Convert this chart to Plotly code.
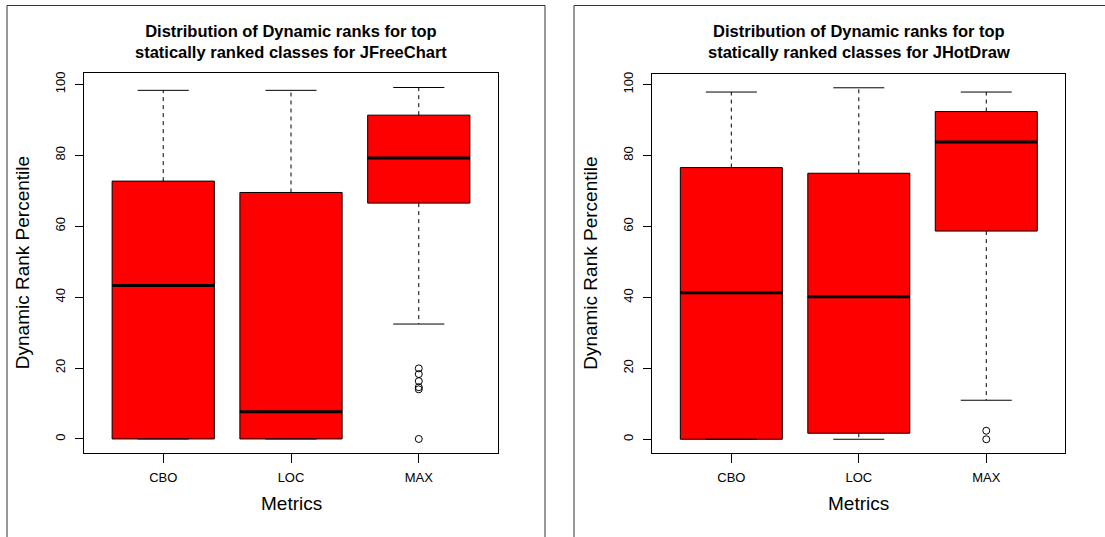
import plotly.graph_objects as go

categories = ["CBO", "LOC", "MAX"]

# JFreeChart panel (left)
jfc_lower = [0.0, 0.0, 32.4]
jfc_q1 = [0.0, 0.0, 66.5]
jfc_median = [43.3, 7.7, 79.2]
jfc_q3 = [72.7, 69.5, 91.3]
jfc_upper = [98.3, 98.3, 99.1]
jfc_outliers_max = [19.9, 18.3, 16.3, 14.6, 14.0, 0.0]

# JHotDraw panel (right)
jhd_lower = [0.0, 0.0, 11.0]
jhd_q1 = [0.0, 1.7, 58.7]
jhd_median = [41.3, 40.2, 83.8]
jhd_q3 = [76.6, 75.0, 92.4]
jhd_upper = [97.9, 99.1, 97.9]
jhd_outliers_max = [2.4, 0.0]

y_ticks = [0, 20, 40, 60, 80, 100]
titles = [
    "Distribution of Dynamic ranks for top<br>statically ranked classes for JFreeChart",
    "Distribution of Dynamic ranks for top<br>statically ranked classes for JHotDraw",
]
x_title = "Metrics"
y_title = "Dynamic Rank Percentile"

W, H = 1105, 537
FONT = "Liberation Sans, Arial, sans-serif"
BOXW = 0.8

fig = go.Figure()

panels = [
    dict(lower=jfc_lower, q1=jfc_q1, med=jfc_median, q3=jfc_q3, upper=jfc_upper,
         out=jfc_outliers_max, xa="x", ya="y", xd=(84, 498), yd=(71.7, 452.7)),
    dict(lower=jhd_lower, q1=jhd_q1, med=jhd_median, q3=jhd_q3, upper=jhd_upper,
         out=jhd_outliers_max, xa="x2", ya="y2", xd=(652.3, 1065.3), yd=(72, 453)),
]

pos = [1, 2, 3]
for k, p in enumerate(panels):
    xa, ya = p["xa"], p["ya"]
    # boxes
    fig.add_trace(go.Box(
        x=pos, q1=p["q1"], median=p["med"], q3=p["q3"],
        lowerfence=p["q1"], upperfence=p["q3"], width=BOXW,
        fillcolor="#FF0000", line=dict(color="black", width=1),
        whiskerwidth=0, boxpoints=False, xaxis=xa, yaxis=ya,
        showlegend=False, hoverinfo="skip"))
    # whiskers
    wx, wy = [], []
    for i, lo, a, b, hi in zip(pos, p["lower"], p["q1"], p["q3"], p["upper"]):
        wx += [i, i, None, i, i, None]
        wy += [b, hi, None, a, lo, None]
    fig.add_trace(go.Scatter(x=wx, y=wy, mode="lines", xaxis=xa, yaxis=ya,
                             line=dict(color="black", width=1, dash="4px,4px"),
                             showlegend=False, hoverinfo="skip"))
    # staples
    cx, cy = [], []
    for i, lo, hi in zip(pos, p["lower"], p["upper"]):
        cx += [i - BOXW / 4, i + BOXW / 4, None, i - BOXW / 4, i + BOXW / 4, None]
        cy += [hi, hi, None, lo, lo, None]
    fig.add_trace(go.Scatter(x=cx, y=cy, mode="lines", xaxis=xa, yaxis=ya,
                             line=dict(color="black", width=1),
                             showlegend=False, hoverinfo="skip"))
    # medians
    mx, my = [], []
    for i, m in zip(pos, p["med"]):
        mx += [i - BOXW / 2, i + BOXW / 2, None]
        my += [m, m, None]
    fig.add_trace(go.Scatter(x=mx, y=my, mode="lines", xaxis=xa, yaxis=ya,
                             line=dict(color="black", width=3),
                             showlegend=False, hoverinfo="skip"))
    # outliers
    fig.add_trace(go.Scatter(x=[3] * len(p["out"]), y=p["out"], mode="markers",
                             xaxis=xa, yaxis=ya,
                             marker=dict(symbol="circle-open", size=7,
                                         color="black", line=dict(width=1)),
                             showlegend=False, hoverinfo="skip"))

    allv = p["lower"] + p["upper"] + p["out"]
    lo_v, hi_v = min(allv), max(allv)
    ext = 0.04 * (hi_v - lo_v)
    suffix = "" if k == 0 else "2"
    fig.update_layout(**{
        "xaxis" + suffix: dict(
            domain=[p["xd"][0] / W, p["xd"][1] / W], range=[0.38, 3.62],
            tickvals=pos, ticktext=categories, ticks="outside", ticklen=9,
            tickcolor="black", showline=True, mirror=True, linecolor="black",
            linewidth=1, showgrid=False, zeroline=False,
            tickfont=dict(family=FONT, size=13, color="black"),
            ticklabelstandoff=3, anchor="y" + suffix),
        "yaxis" + suffix: dict(
            domain=[1 - p["yd"][1] / H, 1 - p["yd"][0] / H],
            range=[lo_v - ext, hi_v + ext], tickvals=y_ticks, tickangle=-90,
            ticks="outside", ticklen=8, tickcolor="black", showline=True,
            mirror=True, linecolor="black", linewidth=1, showgrid=False,
            zeroline=False, tickfont=dict(family=FONT, size=13, color="black"),
            ticklabelstandoff=5, anchor="x" + suffix),
    })

    cx_mid = (p["xd"][0] + p["xd"][1]) / 2
    cy_mid = (p["yd"][0] + p["yd"][1]) / 2
    fig.add_annotation(x=cx_mid / W, y=1 - 40 / H, xref="paper", yref="paper",
                       text=titles[k], showarrow=False, xanchor="center",
                       yanchor="middle",
                       font=dict(family=FONT, size=16.5, color="black", weight="bold"))
    fig.add_annotation(x=cx_mid / W, y=1 - 503 / H, xref="paper", yref="paper",
                       text=x_title, showarrow=False, xanchor="center",
                       yanchor="middle",
                       font=dict(family=FONT, size=19, color="black"))
    fig.add_annotation(x=(p["xd"][0] - 62) / W, y=1 - cy_mid / H, xref="paper",
                       yref="paper", text=y_title, showarrow=False, textangle=-90,
                       xanchor="center", yanchor="middle",
                       font=dict(family=FONT, size=19, color="black"))

# outer panel frames
for x0, x1 in [(7, 545), (574, 1112)]:
    fig.add_shape(type="rect", xref="paper", yref="paper",
                  x0=x0 / W, x1=x1 / W, y0=1 - 545 / H, y1=1 - 3.5 / H,
                  line=dict(color="#333333", width=1), fillcolor="rgba(0,0,0,0)")

fig.update_layout(width=W, height=H, margin=dict(l=0, r=0, t=0, b=0),
                  paper_bgcolor="white", plot_bgcolor="white", showlegend=False)

fig.write_html("out.html")
